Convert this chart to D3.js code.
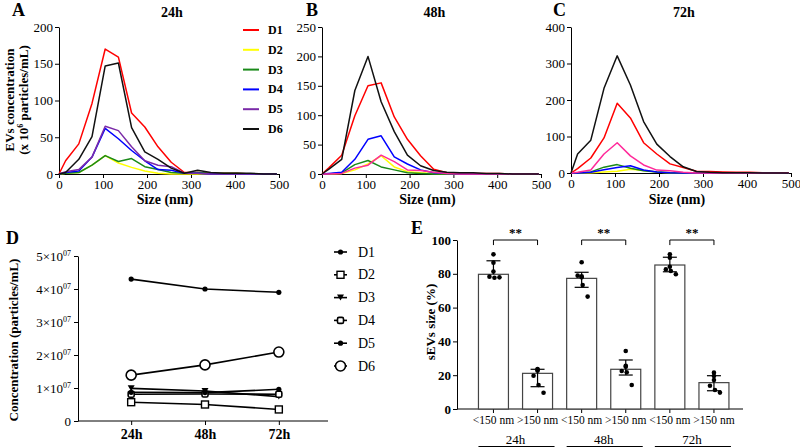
<!DOCTYPE html>
<html><head><meta charset="utf-8">
<script src="https://cdn.jsdelivr.net/npm/d3@7"></script>
<style>
body{margin:0;background:#fff;}
svg, svg text{font-family:'Liberation Serif','Times New Roman',serif !important;}
</style></head><body>
<svg id="c" width="800" height="447"></svg>
<script>
// ---------- DATA ----------
const sizes = [0,15,45,75,105,135,165,195,225,255,285,315,345,375,405,435,465,495];
const donors = ["D1","D2","D3","D4","D5","D6"];
const conc24 = [
  [0,18,41,96,170,159,83,64,37,16,2,2,1,1,1,0,0,0],
  [0,1,2,12,25,15,9,4,1,0,0,0,0,0,0,0,0,0],
  [0,1,2,12,25,17,21,10,6,2,1,2,1,1,1,0,0,0],
  [0,2,4,23,62,48,32,18,6,5,1,1,0,0,0,0,0,0],
  [0,3,6,23,65,59,37,18,12,10,1,1,0,0,0,0,0,0],
  [0,2,20,51,147,151,63,30,20,8,1,5,2,1,1,1,0,0]
];
const conc48 = [
  [0,10,32,99,150,155,97,59,31,8,2,2,1,1,1,0,0,0],
  [0,0,1,7,17,31,12,4,2,1,0,0,0,0,0,0,0,0],
  [0,0,2,16,23,12,7,2,1,0,0,0,0,0,0,0,0,0],
  [0,1,3,25,59,65,29,17,7,2,1,0,0,0,0,0,0,0],
  [0,0,1,10,15,32,21,7,6,3,1,0,0,0,0,0,0,0],
  [0,8,25,142,200,123,72,32,14,6,3,2,2,1,1,0,0,0]
];
const conc72 = [
  [0,12,41,96,191,151,83,52,25,15,5,4,3,2,2,1,1,0],
  [0,0,1,3,5,10,7,3,1,0,0,0,0,0,0,0,0,0],
  [0,0,3,16,23,13,6,3,1,0,0,0,0,0,0,0,0,0],
  [0,0,2,9,15,20,8,3,1,0,0,0,0,0,0,0,0,0],
  [0,2,8,52,83,47,22,8,6,2,0,0,0,0,0,0,0,1],
  [0,52,90,232,321,241,141,79,45,17,4,2,1,1,1,0,0,0]
];
const timepoints = ["24h","48h","72h"];
const totalConc = [
  [4.30e7,4.00e7,3.90e7],
  [0.57e7,0.50e7,0.35e7],
  [0.99e7,0.91e7,0.74e7],
  [0.81e7,0.82e7,0.81e7],
  [0.87e7,0.86e7,0.96e7],
  [1.39e7,1.70e7,2.09e7]
];
const sizeCats = ["<150 nm",">150 nm","<150 nm",">150 nm","<150 nm",">150 nm"];
const sizeMeans = [79.7,21.1,77.3,23.5,85.2,15.6];
const sizeErrHigh = [87.7,23.5,80.9,29.0,89.8,19.7];
const sizeErrLow = [79.7,13.2,72.0,20.1,81.2,10.8];
const sizePoints = [
  [91.5,86.6,81.3,78.3,77.7,77.9],
  [23.7,22.7,23.2,19.7,14.2,9.6],
  [86.8,77.9,78.5,78.9,73.4,66.5],
  [34.3,25.0,25.6,22.5,21.7,14.2],
  [91.5,89.5,84.2,82.6,81.7,79.7],
  [21.5,19.5,17.2,13.8,11.2,9.7]
];
const pointJitter = [0,0,0,-4,1,6];
const sigLabels = ["**","**","**"];

// ---------- STYLES ----------
const colorsA = ["#ff0000","#ffff00","#1a8a1a","#0000ff","#7a2aa8","#111111"];
const colorsBC = ["#ff0000","#ffff00","#1a8a1a","#0000ff","#ff2a9a","#111111"];

const svg = d3.select("#c");
const FONT = "'Liberation Serif','Times New Roman',serif";

function styleAxis(g, fs, bold){
  g.attr("font-family",null);
  g.selectAll("path.domain").attr("stroke","#000").attr("stroke-width",1);
  g.selectAll(".tick line").attr("stroke","#000");
  g.selectAll(".tick text").style("font-family",FONT).attr("font-size",fs)
    .attr("font-weight",bold?"bold":"normal").attr("fill","#000");
}
function txt(x,y,s,fs,bold,anchor){
  return svg.append("text").attr("x",x).attr("y",y).attr("text-anchor",anchor||"start")
    .style("font-family",FONT).attr("font-size",fs).attr("font-weight",bold?"bold":"normal").text(s);
}

// ---------- PANELS A,B,C ----------
const panels = [
  {data:conc24, x0:59, x1:279, yMax:200, yStep:50, y0:174, y1:27, title:"24h", letter:"A", lx:12, colors:colorsA},
  {data:conc48, x0:322, x1:541, yMax:250, yStep:50, y0:174, y1:27, title:"48h", letter:"B", lx:306, colors:colorsBC},
  {data:conc72, x0:571, x1:791, yMax:400, yStep:100, y0:173, y1:27, title:"72h", letter:"C", lx:553, colors:colorsBC}
];
panels.forEach(p=>{
  const x = d3.scaleLinear().domain([0,500]).range([p.x0,p.x1]);
  const y = d3.scaleLinear().domain([0,p.yMax]).range([p.y0,p.y1]);
  const gx = svg.append("g").attr("transform",`translate(0,${p.y0})`)
    .call(d3.axisBottom(x).tickValues([0,100,200,300,400,500]).tickSize(4).tickSizeOuter(0).tickPadding(2));
  styleAxis(gx,13,false);
  const gy = svg.append("g").attr("transform",`translate(${p.x0},0)`)
    .call(d3.axisLeft(y).tickValues(d3.range(0,p.yMax+1,p.yStep)).tickSize(4).tickSizeOuter(0).tickPadding(2));
  styleAxis(gy,13,false);
  const line = d3.line().x((d,i)=>x(sizes[i])).y(d=>y(d));
  p.data.forEach((s,k)=>{
    svg.append("path").datum(s).attr("d",line).attr("fill","none")
      .attr("stroke",p.colors[k]).attr("stroke-width",1.5).attr("stroke-linejoin","round");
  });
  txt((p.x0+p.x1)/2+3,17,p.title,14,true,"middle");
  txt(p.lx,16,p.letter,18,true);
  txt((p.x0+p.x1)/2-4,204,"Size (nm)",14,true,"middle");
});
// y title A
svg.append("text").attr("transform","translate(14,100) rotate(-90)")
  .attr("text-anchor","middle").style("font-family",FONT).attr("font-weight","bold").attr("font-size",13)
  .text("EVs concentration");
const yt2 = svg.append("text").attr("transform","translate(28,100) rotate(-90)")
  .attr("text-anchor","middle").style("font-family",FONT).attr("font-weight","bold").attr("font-size",13);
yt2.append("tspan").text("(x 10");
yt2.append("tspan").attr("font-size",8).attr("dy",-5).text("6");
yt2.append("tspan").attr("dy",5).text(" particles/mL)");
// legend A
donors.forEach((d,k)=>{
  const yy = 30 + k*19.8;
  svg.append("line").attr("x1",243).attr("x2",259).attr("y1",yy).attr("y2",yy)
    .attr("stroke",colorsA[k]).attr("stroke-width",2);
  txt(268,yy+4,d,12,true);
});

// ---------- PANEL D ----------
(function(){
  const x = d3.scalePoint().domain(timepoints).range([78,332]).padding(0.72);
  const y = d3.scaleLinear().domain([0,5e7]).range([421,256]);
  const gx = svg.append("g").attr("transform","translate(0,421)")
    .call(d3.axisBottom(x).tickSize(4).tickSizeOuter(0).tickPadding(4));
  gx.select("path.domain").attr("d","M78,0H328");
  styleAxis(gx,14,true);
  const gy = svg.append("g").attr("transform","translate(78,0)")
    .call(d3.axisLeft(y).tickValues([0,1e7,2e7,3e7,4e7,5e7]).tickSize(4).tickSizeOuter(0).tickPadding(3).tickFormat(()=>""));
  styleAxis(gy,13,false);
  gy.selectAll(".tick").each(function(v){
    const t = d3.select(this).select("text");
    const k = Math.round(v/1e7);
    if(k===0){ t.text("0"); return; }
    t.text(null);
    t.append("tspan").text(k+"×10");
    t.append("tspan").attr("font-size",8).attr("dy",-5).text("07");
  });
  svg.append("text").attr("transform","translate(18,340) rotate(-90)").attr("text-anchor","middle")
    .style("font-family",FONT).attr("font-weight","bold").attr("font-size",13).text("Concentration (particles/mL)");
  txt(6,244,"D",18,true);
  const line = d3.line().x((d,i)=>x(timepoints[i])).y(d=>y(d));
  function marker(g,k,cx,cy){
    if(k===0||k===4){ g.append("circle").attr("cx",cx).attr("cy",cy).attr("r",2.6).attr("fill","#000"); }
    else if(k===1){ g.append("rect").attr("x",cx-3.5).attr("y",cy-3.5).attr("width",7).attr("height",7)
        .attr("fill","#fff").attr("stroke","#000").attr("stroke-width",1.4); }
    else if(k===2){ g.append("path").attr("d",`M${cx-3.5},${cy-3}L${cx+3.5},${cy-3}L${cx},${cy+3}Z`).attr("fill","#000"); }
    else if(k===3){ g.append("rect").attr("x",cx-3).attr("y",cy-3).attr("width",6).attr("height",6).attr("rx",1.5)
        .attr("fill","#fff").attr("stroke","#000").attr("stroke-width",1.6); }
    else { g.append("circle").attr("cx",cx).attr("cy",cy).attr("r",5).attr("fill","#fff")
        .attr("stroke","#000").attr("stroke-width",1.6); }
  }
  totalConc.forEach((s,k)=>{
    svg.append("path").datum(s).attr("d",line).attr("fill","none").attr("stroke","#000").attr("stroke-width",1.6);
  });
  totalConc.forEach((s,k)=>{
    const g = svg.append("g");
    s.forEach((v,i)=>marker(g,k,x(timepoints[i]),y(v)));
  });
  donors.forEach((d,k)=>{
    const yy = 252 + k*22.8;
    const g = svg.append("g");
    g.append("line").attr("x1",334).attr("x2",347).attr("y1",yy).attr("y2",yy).attr("stroke","#000").attr("stroke-width",1.6);
    marker(g,k,340.5,yy);
    txt(358,yy+4.5,d,14,false);
  });
})();

// ---------- PANEL E ----------
(function(){
  const idx = d3.range(sizeCats.length);
  const x = d3.scaleBand().domain(idx).range([471.4,736]).paddingInner(0.32).paddingOuter(0.16);
  const y = d3.scaleLinear().domain([0,100]).range([409,240]);
  const gy = svg.append("g").attr("transform","translate(457,0)")
    .call(d3.axisLeft(y).tickValues([0,20,40,60,80,100]).tickSize(4).tickSizeOuter(0).tickPadding(2));
  styleAxis(gy,13,true);
  svg.append("line").attr("x1",457).attr("x2",743).attr("y1",409).attr("y2",409).attr("stroke","#000");
  const cx = i => x(i)+x.bandwidth()/2;
  idx.forEach(i=>{
    svg.append("line").attr("x1",cx(i)).attr("x2",cx(i)).attr("y1",409).attr("y2",413).attr("stroke","#000");
    svg.append("rect").attr("x",x(i)).attr("y",y(sizeMeans[i])).attr("width",x.bandwidth())
      .attr("height",409-y(sizeMeans[i])).attr("fill","#fff").attr("stroke","#444").attr("stroke-width",1.2);
    txt(cx(i),424,sizeCats[i],11.5,false,"middle");
  });
  idx.forEach(i=>{
    const c = cx(i);
    svg.append("line").attr("x1",c).attr("x2",c).attr("y1",y(sizeErrHigh[i])).attr("y2",y(sizeErrLow[i]))
      .attr("stroke","#000").attr("stroke-width",1.2);
    [sizeErrHigh[i],sizeErrLow[i]].forEach(v=>{
      if(v===sizeMeans[i]) return;
      svg.append("line").attr("x1",c-7).attr("x2",c+7).attr("y1",y(v)).attr("y2",y(v))
        .attr("stroke","#000").attr("stroke-width",1.2);
    });
    sizePoints[i].forEach((v,j)=>{
      svg.append("circle").attr("cx",c+pointJitter[j]).attr("cy",y(v)).attr("r",2.3).attr("fill","#000");
    });
  });
  timepoints.forEach((t,g)=>{
    const a = cx(2*g), b = cx(2*g+1);
    svg.append("path").attr("d",`M${a},${y(97)}V${y(100)}H${b}V${y(97)}`).attr("fill","none")
      .attr("stroke","#000").attr("stroke-width",1);
    txt((a+b)/2,237,sigLabels[g],13,true,"middle");
    txt((a+b)/2,444,t,13,false,"middle");
    svg.append("line").attr("x1",x(2*g)).attr("x2",x(2*g+1)+x.bandwidth()+2).attr("y1",446.5).attr("y2",446.5)
      .attr("stroke","#000").attr("stroke-width",1);
  });
  svg.append("text").attr("transform","translate(435,322) rotate(-90)").attr("text-anchor","middle")
    .style("font-family",FONT).attr("font-weight","bold").attr("font-size",13).text("sEVs size (%)");
  txt(411,234,"E",18,true);
})();
</script></body></html>
